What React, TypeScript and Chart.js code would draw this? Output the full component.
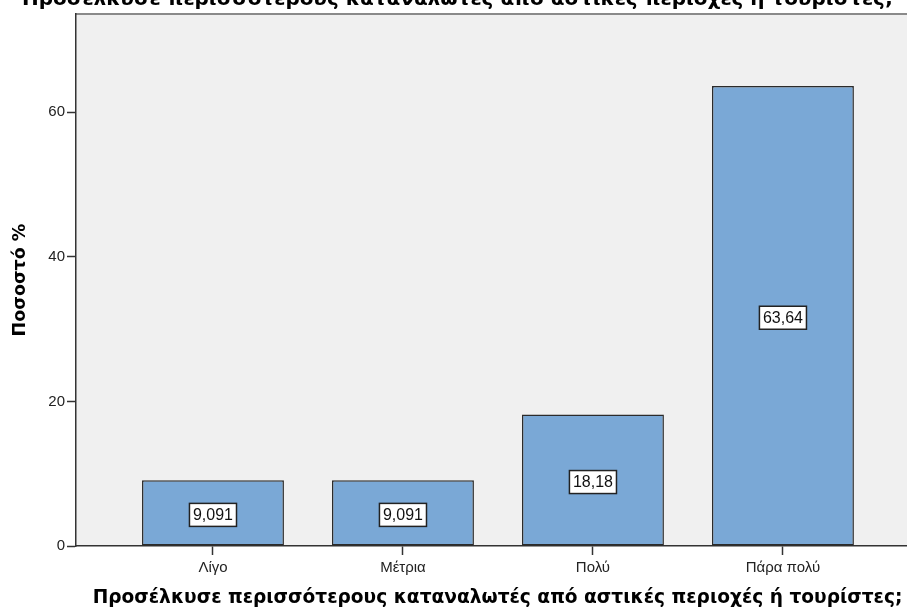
import React, { useEffect, useRef } from "react";
import { Chart, registerables } from "chart.js";

Chart.register(...registerables);

// Data
const categories = ["Λίγο", "Μέτρια", "Πολύ", "Πάρα πολύ"];
const percentages = [9.091, 9.091, 18.18, 63.64];
const yTicks = [0, 20, 40, 60];

const chartTitle = "Προσέλκυσε περισσότερους καταναλωτές από αστικές περιοχές ή τουρίστες;";
const xTitle = "Προσέλκυσε περισσότερους καταναλωτές από αστικές περιοχές ή τουρίστες;";
const yTitle = "Ποσοστό %";

const TITLE_FONT = "'DejaVu Sans', Verdana, sans-serif";
const LABEL_FONT = "'Liberation Sans', Arial, sans-serif";

const formatValue = (v: number) => String(v).replace(".", ",");

// Plot background, frame line on top, main title and the category axis title
const framePlugin = {
  id: "frame",
  beforeDraw(chart: any) {
    const { ctx, chartArea } = chart;
    ctx.save();
    ctx.fillStyle = "#f0f0f0";
    ctx.fillRect(chartArea.left, chartArea.top, chartArea.right - chartArea.left, chartArea.bottom - chartArea.top);
    ctx.strokeStyle = "#8a8a8a";
    ctx.lineWidth = 2;
    ctx.beginPath();
    ctx.moveTo(chartArea.left, chartArea.top);
    ctx.lineTo(chartArea.right, chartArea.top);
    ctx.stroke();
    ctx.restore();
  },
  afterDraw(chart: any) {
    const { ctx } = chart;
    ctx.save();
    ctx.fillStyle = "#000";
    ctx.textAlign = "center";
    ctx.textBaseline = "alphabetic";
    ctx.font = `bold 20px ${TITLE_FONT}`;
    ctx.fillText(chartTitle, 457.5, 4.5);
    ctx.font = `bold 18.6px ${TITLE_FONT}`;
    ctx.fillText(xTitle, 497.5, 603);
    ctx.restore();
  },
};

// Boxed value labels in the middle of each bar
const valueLabelPlugin = {
  id: "valueLabels",
  afterDatasetsDraw(chart: any) {
    const { ctx } = chart;
    const meta = chart.getDatasetMeta(0);
    ctx.save();
    ctx.font = `16px ${LABEL_FONT}`;
    ctx.textAlign = "center";
    ctx.textBaseline = "middle";
    meta.data.forEach((bar: any, i: number) => {
      const text = formatValue(percentages[i]);
      const w = ctx.measureText(text).width + 7;
      const h = 23;
      const cx = bar.x;
      const cy = (bar.y + bar.base) / 2 + 2;
      ctx.fillStyle = "#ffffff";
      ctx.fillRect(cx - w / 2, cy - h / 2, w, h);
      ctx.strokeStyle = "#222";
      ctx.lineWidth = 1.5;
      ctx.strokeRect(cx - w / 2, cy - h / 2, w, h);
      ctx.fillStyle = "#111";
      ctx.fillText(text, cx, cy + 1);
    });
    ctx.restore();
  },
};

export default function App() {
  const canvasRef = useRef<HTMLCanvasElement | null>(null);

  useEffect(() => {
    if (!canvasRef.current) return;
    const chart = new Chart(canvasRef.current, {
      type: "bar",
      data: {
        datasets: [
          {
            data: percentages.map((v, i) => ({ x: i, y: v })),
            backgroundColor: "#7aa8d6",
            borderColor: "#2b2b2b",
            borderWidth: 1.5,
            borderSkipped: false,
            barPercentage: 1,
            categoryPercentage: 0.747,
          },
        ],
      },
      options: {
        responsive: false,
        animation: false,
        layout: { padding: { top: 14, left: 0, right: 0, bottom: 0 } },
        plugins: {
          legend: { display: false },
          tooltip: { enabled: false },
        },
        scales: {
          x: {
            type: "linear",
            offset: false,
            min: -0.721,
            max: 3.653,
            afterBuildTicks: (scale: any) => {
              scale.ticks = categories.map((_, i) => ({ value: i }));
            },
            afterFit: (scale: any) => {
              scale.height = 62;
            },
            ticks: {
              autoSkip: false,
              maxRotation: 0,
              padding: 4,
              color: "#222",
              font: { family: LABEL_FONT, size: 15 },
              callback: (v: any) => categories[v] ?? "",
            },
            grid: { offset: false, drawOnChartArea: false, drawTicks: true, tickLength: 9, tickWidth: 1.5, tickColor: "#333" },
            border: { display: true, color: "#333", width: 1.5 },
          },
          y: {
            min: 0,
            max: 73.6,
            afterBuildTicks: (scale: any) => {
              scale.ticks = yTicks.map((v) => ({ value: v }));
            },
            afterFit: (scale: any) => {
              scale.width = 76;
            },
            ticks: {
              padding: 2,
              color: "#222",
              font: { family: LABEL_FONT, size: 15 },
            },
            grid: { drawOnChartArea: false, drawTicks: true, tickLength: 9, tickWidth: 1.5, tickColor: "#333" },
            border: { display: true, color: "#333", width: 1.5 },
            title: {
              display: true,
              text: yTitle,
              color: "#000",
              font: { family: TITLE_FONT, size: 17.5, weight: "bold", lineHeight: 1.2 },
              padding: { top: 10, bottom: 0 },
            },
          },
        },
      },
      plugins: [framePlugin, valueLabelPlugin],
    } as any);
    return () => chart.destroy();
  }, []);

  return (
    <div style={{ position: "absolute", left: 0, top: 0, width: 907, height: 608 }}>
      <canvas ref={canvasRef} width={907} height={608} style={{ display: "block" }} />
    </div>
  );
}
